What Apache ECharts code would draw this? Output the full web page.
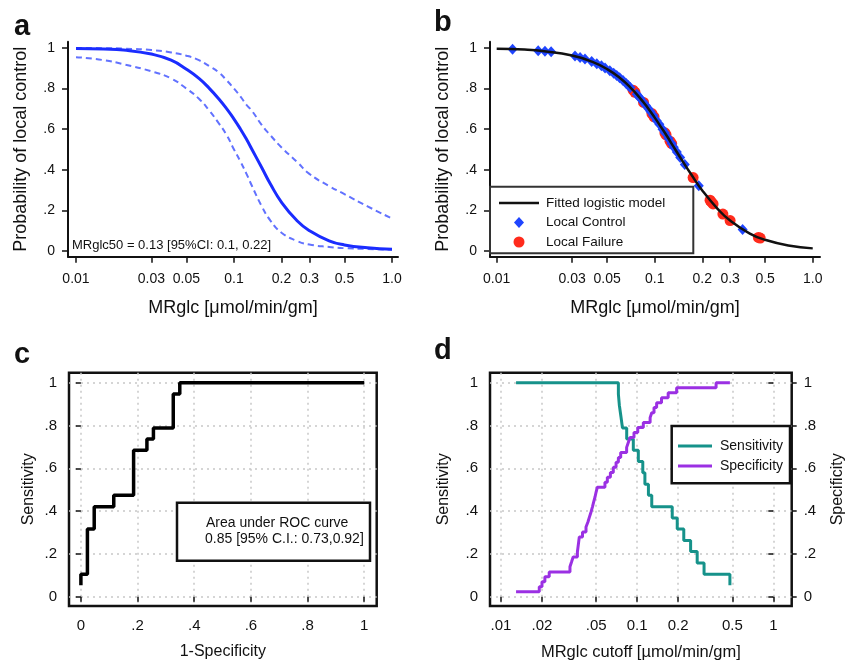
<!DOCTYPE html>
<html><head><meta charset="utf-8">
<script src="https://cdn.jsdelivr.net/npm/echarts@6.0.0/dist/echarts.min.js"></script>
<style>html,body{margin:0;padding:0;background:#fff}#c{width:860px;height:665px}</style>
</head><body><div id="c"></div>
<script>
// ---------------- DATA ----------------
// Panel a: fitted logistic model with 95% CI (MRglc in umol/min/gm)
const aX     = [0.01, 0.015, 0.02, 0.03, 0.04, 0.05, 0.06, 0.07, 0.08, 0.09, 0.10, 0.11, 0.12, 0.13, 0.15, 0.17, 0.20, 0.25, 0.30, 0.40, 0.50, 0.70, 1.00];
const aFit   = [0.998, 0.995, 0.99, 0.97, 0.94, 0.895, 0.85, 0.80, 0.75, 0.70, 0.65, 0.60, 0.55, 0.50, 0.41, 0.33, 0.24, 0.15, 0.10, 0.05, 0.03, 0.016, 0.009];
const aUpper = [1.0, 0.999, 0.997, 0.99, 0.978, 0.962, 0.94, 0.91, 0.88, 0.84, 0.80, 0.76, 0.72, 0.69, 0.62, 0.57, 0.51, 0.44, 0.38, 0.32, 0.28, 0.22, 0.16];
const aLower = [0.955, 0.94, 0.92, 0.885, 0.85, 0.80, 0.75, 0.69, 0.63, 0.57, 0.50, 0.44, 0.38, 0.32, 0.22, 0.15, 0.09, 0.05, 0.032, 0.02, 0.014, 0.01, 0.007];
const aNote  = 'MRglc50 = 0.13 [95%CI: 0.1, 0.22]';

// Panel b: fitted curve and patients
const bX   = [0.01, 0.015, 0.02, 0.03, 0.04, 0.05, 0.06, 0.07, 0.08, 0.09, 0.10, 0.11, 0.12, 0.13, 0.15, 0.17, 0.20, 0.25, 0.30, 0.40, 0.50, 0.70, 1.00];
const bFit = [0.996, 0.992, 0.984, 0.963, 0.933, 0.896, 0.853, 0.806, 0.757, 0.707, 0.657, 0.609, 0.564, 0.52, 0.443, 0.378, 0.298, 0.208, 0.15, 0.086, 0.055, 0.027, 0.013];
const controlX = [0.0126, 0.0183, 0.0202, 0.0221, 0.0313, 0.0337, 0.0362, 0.0399, 0.043, 0.046, 0.0485, 0.052, 0.055, 0.0575, 0.060, 0.063, 0.066, 0.068, 0.070, 0.077, 0.079, 0.081, 0.085, 0.088, 0.091, 0.094, 0.098, 0.103, 0.107, 0.112, 0.116, 0.122, 0.128, 0.132, 0.138, 0.145, 0.155, 0.19, 0.36];
const controlY = [0.994, 0.987, 0.984, 0.981, 0.960, 0.953, 0.946, 0.934, 0.923, 0.912, 0.902, 0.888, 0.875, 0.864, 0.853, 0.840, 0.825, 0.815, 0.806, 0.772, 0.761, 0.752, 0.732, 0.717, 0.702, 0.687, 0.667, 0.642, 0.624, 0.600, 0.582, 0.555, 0.529, 0.511, 0.488, 0.461, 0.426, 0.322, 0.106];
const failureX = [0.073, 0.075, 0.085, 0.096, 0.099, 0.116, 0.118, 0.125, 0.128, 0.175, 0.224, 0.228, 0.234, 0.27, 0.30, 0.453, 0.465];
const failureY = [0.792, 0.782, 0.732, 0.677, 0.661, 0.582, 0.572, 0.541, 0.529, 0.362, 0.25, 0.242, 0.232, 0.182, 0.15, 0.067, 0.064];

// Panel c: ROC curve (step points)
const rocFpr  = [0, 0, 0.023, 0.047, 0.116, 0.186, 0.233, 0.256, 0.326, 0.349, 1];
const rocSens = [0.053, 0.105, 0.316, 0.421, 0.474, 0.684, 0.737, 0.789, 0.947, 1, 1];
const rocNote = ['Area under ROC curve', '0.85 [95% C.I.: 0.73,0.92]'];

// Panel d: sensitivity / specificity vs cutoff
const sensCut = [0.0129, 0.0728, 0.074, 0.076, 0.078, 0.0838, 0.0937, 0.102, 0.110, 0.114, 0.121, 0.128, 0.181, 0.197, 0.22, 0.247, 0.276, 0.31, 0.48];
const sensVal = [1, 0.947, 0.895, 0.842, 0.789, 0.737, 0.684, 0.632, 0.579, 0.526, 0.474, 0.421, 0.368, 0.316, 0.263, 0.211, 0.158, 0.105, 0.053];
const specCut = [0.0129, 0.0191, 0.0200, 0.0210, 0.0226, 0.0321, 0.0330, 0.0339, 0.0364, 0.0368, 0.0372, 0.0376, 0.0397, 0.0421, 0.0435, 0.0446, 0.0458, 0.0469, 0.0479, 0.0490, 0.0499, 0.0510, 0.0580, 0.0604, 0.0636, 0.0668, 0.0700, 0.0728, 0.0757, 0.0837, 0.0861, 0.0886, 0.0948, 0.101, 0.111, 0.1245, 0.128, 0.133, 0.139, 0.151, 0.169, 0.195, 0.380, 0.48];
const specVal = [0.023, 0.047, 0.070, 0.093, 0.116, 0.140, 0.163, 0.186, 0.209, 0.233, 0.256, 0.279, 0.302, 0.326, 0.349, 0.372, 0.395, 0.419, 0.442, 0.465, 0.488, 0.512, 0.535, 0.558, 0.581, 0.605, 0.628, 0.651, 0.674, 0.698, 0.721, 0.744, 0.767, 0.791, 0.814, 0.837, 0.860, 0.884, 0.907, 0.930, 0.953, 0.977, 1.000, 1.000];

// Tick labels
const abTicks = [0.01, 0.03, 0.05, 0.1, 0.2, 0.3, 0.5, 1];
const abTickLabels = ['0.01', '0.03', '0.05', '0.1', '0.2', '0.3', '0.5', '1.0'];
const dTicks = [0.01, 0.02, 0.05, 0.1, 0.2, 0.5, 1];
const dTickLabels = ['.01', '.02', '.05', '0.1', '0.2', '0.5', '1'];
const pTicks = [0, 0.2, 0.4, 0.6, 0.8, 1];
const pTickLabels = ['0', '.2', '.4', '.6', '.8', '1'];

// ---------------- CHART ----------------
const FONT = '"Liberation Sans", Arial, sans-serif';
const L = v => Math.log10(v);
const fmt = (ticks, labels, tf) => v => {
  for (let i = 0; i < ticks.length; i++) if (Math.abs(tf(ticks[i]) - v) < 1e-6) return labels[i];
  return '';
};
const ident = v => v;

function xLogAxis(grid, min, max, ticks, labels, name) {
  return {
    type: 'value', gridIndex: grid, min: min, max: max,
    axisLine: { show: true, onZero: false, lineStyle: { color: '#111', width: 2 } },
    axisTick: { show: true, customValues: ticks.map(L), length: 6, lineStyle: { color: '#111', width: 1.5 } },
    axisLabel: { customValues: ticks.map(L), formatter: fmt(ticks, labels, L), fontFamily: FONT, fontSize: 14, color: '#111', margin: 15 },
    splitLine: { show: false },
    name: name, nameLocation: 'middle', nameGap: 42,
    nameTextStyle: { fontFamily: FONT, fontSize: 18, color: '#111' }
  };
}
function yPAxis(grid, min, max, name) {
  return {
    type: 'value', gridIndex: grid, min: min, max: max,
    axisLine: { show: true, onZero: false, lineStyle: { color: '#111', width: 2 } },
    axisTick: { show: true, customValues: pTicks, length: 6, lineStyle: { color: '#111', width: 1.5 } },
    axisLabel: { customValues: pTicks, formatter: fmt(pTicks, pTickLabels, ident), fontFamily: FONT, fontSize: 14, color: '#111', margin: 13 },
    splitLine: { show: false },
    name: name, nameLocation: 'middle', nameGap: 38,
    nameTextStyle: { fontFamily: FONT, fontSize: 18, color: '#111' }
  };
}

const gridLine = { show: true, lineStyle: { color: '#c8c8c8', width: 1.5, type: [2, 4] } };
function frameAxis(grid, min, max, ticks, labels, tf, name, gap, extra) {
  return Object.assign({
    type: 'value', gridIndex: grid, min: min, max: max,
    axisLine: { show: false },
    axisTick: { show: true, customValues: ticks.map(tf), length: 5, lineStyle: { color: '#111', width: 1.5 } },
    axisLabel: { customValues: ticks.map(tf), formatter: fmt(ticks, labels, tf), fontFamily: FONT, fontSize: 15, color: '#111', margin: 12 },
    splitLine: gridLine,
    name: name, nameLocation: 'middle', nameGap: gap,
    nameTextStyle: { fontFamily: FONT, fontSize: 16, color: '#111' }
  }, extra || {});
}

const option = {
  animation: false,
  backgroundColor: '#fff',
  grid: [
    { left: 68, top: 41.7, width: 330, height: 215 },
    { left: 490, top: 41.7, width: 330, height: 215 },
    { left: 69, top: 372.7, width: 307.7, height: 233.3, show: true, borderColor: '#111', borderWidth: 2.5, backgroundColor: 'transparent' },
    { left: 490, top: 372.7, width: 301.7, height: 233.3, show: true, borderColor: '#111', borderWidth: 2.5, backgroundColor: 'transparent' }
  ],
  xAxis: [
    xLogAxis(0, -2.0506, 0.038, abTicks, abTickLabels, 'MRglc [\u03bcmol/min/gm]'),
    xLogAxis(1, -2.0424, 0.046, abTicks, abTickLabels, 'MRglc [\u03bcmol/min/gm]'),
    frameAxis(2, -0.042, 1.044, pTicks, pTickLabels, ident, '1-Specificity', 38),
    frameAxis(3, -2.0808, 0.1351, dTicks, dTickLabels, L, 'MRglc cutoff [\u00b5mol/min/gm]', 38,
      { nameTextStyle: { fontFamily: FONT, fontSize: 16.5, color: '#111' } })
  ],
  yAxis: [
    yPAxis(0, -0.028, 1.031, 'Probability of local control'),
    yPAxis(1, -0.028, 1.031, 'Probability of local control'),
    frameAxis(2, -0.0435, 1.047, pTicks, pTickLabels, ident, 'Sensitivity', 32),
    frameAxis(3, -0.0435, 1.047, pTicks, pTickLabels, ident, 'Sensitivity', 38),
    frameAxis(3, -0.0435, 1.047, pTicks, pTickLabels, ident, 'Specificity', 38,
      { position: 'right', nameRotate: 90, splitLine: { show: false } })
  ],
  legend: [
    {
      data: [
        { name: 'Fitted logistic model', icon: 'path://M0,0L40,0L40,2.6L0,2.6Z' },
        { name: 'Local Control', icon: 'path://M5,0L10,5.5L5,11L0,5.5Z' },
        { name: 'Local Failure', icon: 'circle' }
      ],
      orient: 'vertical', left: 494, top: 191, itemWidth: 40, itemHeight: 11, itemGap: 5.5,
      symbolKeepAspect: true, selectedMode: false, z: 10,
      textStyle: { fontFamily: FONT, fontSize: 13.5, color: '#111', padding: [0, 0, 0, 2] }
    },
    {
      data: [
        { name: 'Sensitivity', icon: 'path://M0,0L34,0L34,3.2L0,3.2Z' },
        { name: 'Specificity', icon: 'path://M0,0L34,0L34,3.2L0,3.2Z' }
      ],
      orient: 'vertical', left: 673, top: 434, itemWidth: 34, itemHeight: 14, itemGap: 6,
      symbolKeepAspect: true, selectedMode: false, z: 10,
      textStyle: { fontFamily: FONT, fontSize: 14, color: '#111', padding: [0, 0, 0, 3] }
    }
  ],
  series: [
    // panel a
    { type: 'line', xAxisIndex: 0, yAxisIndex: 0, smooth: true, symbol: 'none',
      lineStyle: { color: '#6272ff', width: 2, type: [6, 4] }, data: aX.map((x, i) => [L(x), aUpper[i]]) },
    { type: 'line', xAxisIndex: 0, yAxisIndex: 0, smooth: true, symbol: 'none',
      lineStyle: { color: '#6272ff', width: 2, type: [6, 4] }, data: aX.map((x, i) => [L(x), aLower[i]]) },
    { type: 'line', xAxisIndex: 0, yAxisIndex: 0, smooth: true, symbol: 'none',
      lineStyle: { color: '#1a2cff', width: 3 }, data: aX.map((x, i) => [L(x), aFit[i]]) },
    // panel b
    { name: 'Fitted logistic model', type: 'line', xAxisIndex: 1, yAxisIndex: 1, smooth: true, symbol: 'none',
      itemStyle: { color: '#111' }, lineStyle: { color: '#111', width: 2.5 }, data: bX.map((x, i) => [L(x), bFit[i]]) },
    { name: 'Local Failure', type: 'scatter', xAxisIndex: 1, yAxisIndex: 1, symbol: 'circle', symbolSize: 11,
      itemStyle: { color: '#ff2b1c', opacity: 1 }, data: failureX.map((x, i) => [L(x), failureY[i]]) },
    { name: 'Local Control', type: 'scatter', xAxisIndex: 1, yAxisIndex: 1, symbol: 'diamond', symbolSize: [10, 11],
      itemStyle: { color: '#1f45ff', opacity: 1 }, data: controlX.map((x, i) => [L(x), controlY[i]]) },
    // panel c
    { type: 'line', xAxisIndex: 2, yAxisIndex: 2, step: 'end', symbol: 'none',
      lineStyle: { color: '#000', width: 3.5 }, data: rocFpr.map((x, i) => [x, rocSens[i]]) },
    // panel d
    { name: 'Sensitivity', type: 'line', xAxisIndex: 3, yAxisIndex: 3, step: 'end', symbol: 'none',
      itemStyle: { color: '#16928a' }, lineStyle: { color: '#16928a', width: 3 }, data: sensCut.map((x, i) => [L(x), sensVal[i]]) },
    { name: 'Specificity', type: 'line', xAxisIndex: 3, yAxisIndex: 4, step: 'end', symbol: 'none',
      itemStyle: { color: '#9b30e3' }, lineStyle: { color: '#9b30e3', width: 3 }, data: specCut.map((x, i) => [L(x), specVal[i]]) }
  ],
  graphic: [
    { type: 'text', left: 14, top: 12, style: { text: 'a', font: 'bold 29px ' + FONT, fill: '#111' } },
    { type: 'text', left: 434, top: 8, style: { text: 'b', font: 'bold 29px ' + FONT, fill: '#111' } },
    { type: 'text', left: 14, top: 340, style: { text: 'c', font: 'bold 29px ' + FONT, fill: '#111' } },
    { type: 'text', left: 434, top: 336, style: { text: 'd', font: 'bold 29px ' + FONT, fill: '#111' } },
    { type: 'text', left: 72, top: 239, z: 10, style: { text: aNote, font: '13px ' + FONT, fill: '#111' } },
    { type: 'rect', shape: { x: 490, y: 186.7, width: 203.3, height: 66.6 }, z: 1,
      style: { fill: '#fff', stroke: '#333', lineWidth: 2 } },
    { type: 'rect', shape: { x: 177, y: 502.7, width: 193, height: 58 }, z: 5,
      style: { fill: '#fff', stroke: '#111', lineWidth: 2.5 } },
    { type: 'text', left: 206, top: 516, z: 6, style: { text: rocNote[0], font: '14px ' + FONT, fill: '#111' } },
    { type: 'text', left: 205, top: 532, z: 6, style: { text: rocNote[1], font: '14px ' + FONT, fill: '#111' } },
    { type: 'rect', shape: { x: 671.7, y: 426, width: 118.3, height: 57.3 }, z: 1,
      style: { fill: '#fff', stroke: '#111', lineWidth: 2.5 } }
  ]
};

const chart = echarts.init(document.getElementById('c'), null, { renderer: 'canvas' });
chart.setOption(option);
</script>
</body></html>
